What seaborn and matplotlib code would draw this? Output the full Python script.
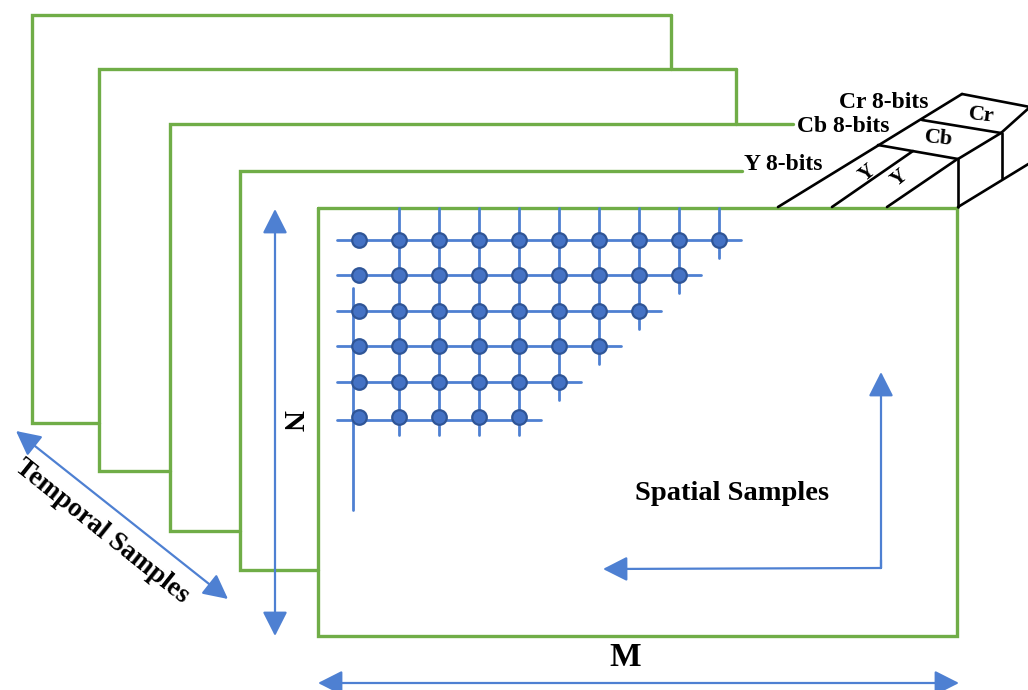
import matplotlib
matplotlib.use("Agg")
import numpy as np
import pandas as pd
import matplotlib.pyplot as plt
import seaborn as sns
from matplotlib.patches import FancyArrowPatch

# sampling grid: number of samples in each row, top row first
dots_per_row = [10, 9, 8, 7, 6, 5]
channel_labels = ["Y 8-bits", "Cb 8-bits", "Cr 8-bits"]
block_labels = ["Y", "Y", "Cb", "Cr"]
dim_labels = ["M", "N"]
axis_titles = ["Temporal Samples", "Spatial Samples"]

GREEN = "#70AD47"
BLUE = "#4472C4"
LINE_BLUE = "#4E80D2"
DARK = "#2F5597"
SERIF = ["Liberation Serif", "DejaVu Serif"]

sns.set_theme(style="white")
plt.rcParams["font.family"] = SERIF

fig = plt.figure(figsize=(10.28, 6.9), dpi=100)
ax = fig.add_axes([0, 0, 1, 1])

# ── stacked frames (back to front): left, top, right, bottom ──
frames = [(32, 15, 671, 423), (99, 69, 736, 471), (170, 124, 793, 531),
          (240, 171, 742, 570), (318, 208, 957, 636)]
glw = 2.4
for i, (l, t, r, b) in enumerate(frames[:-1]):
    nl, nt = frames[i + 1][0], frames[i + 1][1]
    ax.plot([r, l, l, nl], [t, t, b, b], color=GREEN, lw=glw, solid_joinstyle="miter")
    if i < 2:
        ax.plot([r, r], [t, nt], color=GREEN, lw=glw)
l, t, r, b = frames[-1]
ax.plot([l, r, r, l, l], [t, t, b, b, t], color=GREEN, lw=glw, solid_joinstyle="miter")

# ── sampling grid ──
x0, y0, dx, dy = 359, 240, 40, 35.4
rows = []
for ri, n in enumerate(dots_per_row):
    for ci in range(n):
        rows.append({"x": x0 + ci * dx, "y": y0 + ri * dy, "row": ri, "col": ci})
grid = pd.DataFrame(rows)

for ri, n in enumerate(dots_per_row):
    y = y0 + ri * dy + (3 if ri == len(dots_per_row) - 1 else 0)
    ax.plot([x0 - 22, x0 + (n - 1) * dx + 22], [y, y], color=LINE_BLUE, lw=2.0, zorder=2)
for ci in range(1, dots_per_row[0]):
    depth = sum(1 for n in dots_per_row if n > ci)
    ax.plot([x0 + ci * dx] * 2, [208, y0 + (depth - 1) * dy + 18],
            color=LINE_BLUE, lw=2.0, zorder=2)
ax.plot([x0 - 6, x0 - 6], [288, 510], color=LINE_BLUE, lw=2.0, zorder=2)

sns.scatterplot(data=grid, x="x", y="y", ax=ax, s=110, color=BLUE,
                edgecolor=DARK, linewidth=1.6, zorder=3, legend=False)
ax.set_xlim(0, 1028)
ax.set_ylim(690, 0)
ax.axis("off")

# ── Y/Cb/Cr block ──
segs = [
    [(962, 94), (1030, 107)],
    [(962, 94), (778, 207)],
    [(922, 120), (1001, 133)],
    [(878, 145), (958, 159)],
    [(1030, 107), (1001, 133)],
    [(1001, 133), (958, 159)],
    [(913, 151), (832, 207)],
    [(956, 160), (887, 207)],
    [(958, 159), (958, 207)],
    [(1002, 133), (1002, 178)],
    [(958, 207), (1030, 163)],
]
for (xa, ya), (xb, yb) in segs:
    ax.plot([xa, xb], [ya, yb], color="black", lw=1.9, solid_capstyle="round")

bold = dict(fontweight="bold", family=SERIF, color="black")
for txt, (x, y) in zip(channel_labels, [(783, 165), (843, 127), (884, 102)]):
    ax.text(x, y, txt, ha="center", va="center", fontsize=17, **bold)
for txt, (x, y, rot, fs) in zip(block_labels, [(867, 173, 39, 15), (899, 178, 39, 15),
                                              (939, 139, -6, 16), (981, 115, -6, 16)]):
    ax.text(x, y, txt, ha="center", va="center", fontsize=fs, rotation=rot,
            rotation_mode="anchor", **bold)


# ── arrows ──
def arrow(p0, p1, style="<|-|>"):
    ax.add_patch(FancyArrowPatch(
        p0, p1, arrowstyle=f"{style},head_length=0.75,head_width=0.38",
        mutation_scale=20, color=LINE_BLUE, lw=1.6, shrinkA=0, shrinkB=0,
        zorder=4))


arrow((275, 209), (275, 636))
arrow((16, 431), (228, 599))
arrow((318, 683), (959, 683))
arrow((881, 568), (603, 569), "-|>")
arrow((881, 568), (881, 372), "-|>")
ax.plot([881, 881], [568, 560], color=LINE_BLUE, lw=1.6)

ax.text(625, 657, dim_labels[0], ha="center", va="center", fontsize=24, **bold)
ax.text(291, 420, dim_labels[1], ha="center", va="center", fontsize=21,
        rotation=-90, **bold)
ax.text(102, 531, axis_titles[0], ha="center", va="center", fontsize=19.5,
        rotation=-38.6, rotation_mode="anchor", **bold)
ax.text(732, 493, axis_titles[1], ha="center", va="center", fontsize=20.5, **bold)

fig.savefig("out.png", dpi=100, facecolor="white")
